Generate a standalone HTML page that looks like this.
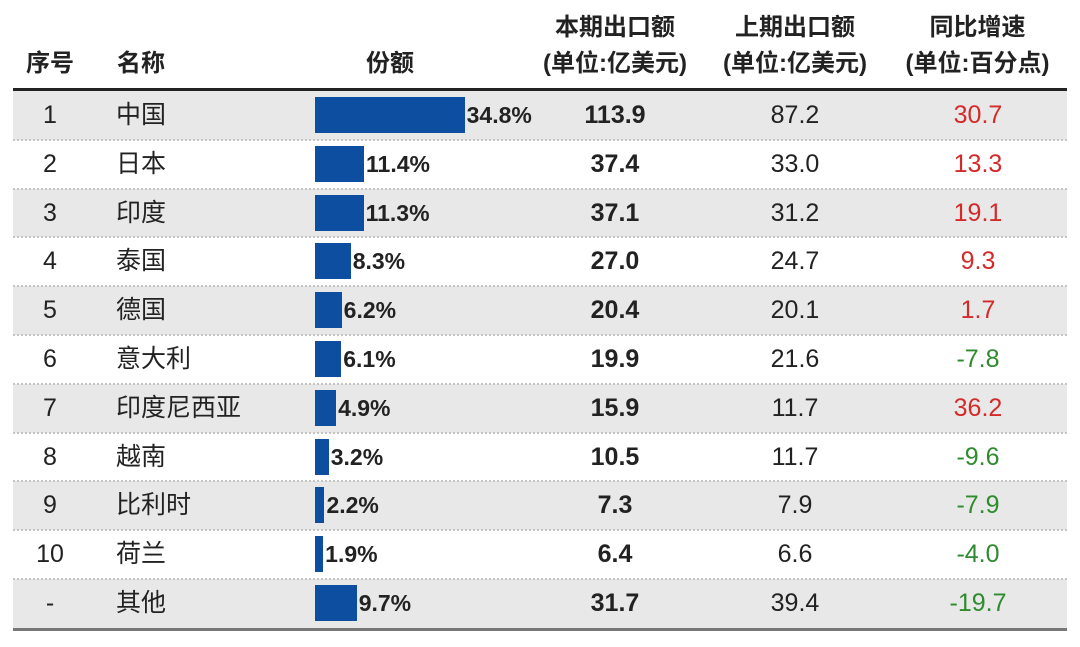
<!DOCTYPE html><html><head><meta charset="utf-8"><style>
body{margin:0;width:1080px;height:647px;background:#fff;position:relative;overflow:hidden;font-family:"Liberation Sans","Noto Sans CJK SC",sans-serif;color:#222}
.h{position:absolute;font-weight:bold;font-size:24px;text-align:center;line-height:36px}
.row{position:absolute;left:13px;width:1054px;height:48.8px}
.g{background:#e8e8e8}
.sep{position:absolute;left:13px;width:1054px;border-top:2px dotted #c4c4c4}
.c{position:absolute;font-size:25px;line-height:48px;text-align:center}
.bar{position:absolute;height:36px;top:6px;background:#0d4ea0}
.pl{position:absolute;font-size:23px;font-weight:bold;line-height:48px}
</style></head><body>
<div class="h" style="left:10px;width:80px;top:46px">序号</div>
<div class="h" style="left:110px;width:62px;top:46px">名称</div>
<div class="h" style="left:340px;width:100px;top:46px">份额</div>
<div class="h" style="left:525px;width:180px;top:10px">本期出口额<br>(单位:亿美元)</div>
<div class="h" style="left:705px;width:180px;top:10px">上期出口额<br>(单位:亿美元)</div>
<div class="h" style="left:885px;width:185px;top:10px">同比增速<br>(单位:百分点)</div>
<div style="position:absolute;left:13px;width:1054px;top:88px;height:3px;background:#222"></div>
<div id="rows"></div>
<div style="position:absolute;left:13px;width:1054px;top:628px;height:3px;background:#777"></div>
<script>
var d=[["1","中国",34.8,"113.9","87.2","30.7"],["2","日本",11.4,"37.4","33.0","13.3"],["3","印度",11.3,"37.1","31.2","19.1"],["4","泰国",8.3,"27.0","24.7","9.3"],["5","德国",6.2,"20.4","20.1","1.7"],["6","意大利",6.1,"19.9","21.6","-7.8"],["7","印度尼西亚",4.9,"15.9","11.7","36.2"],["8","越南",3.2,"10.5","11.7","-9.6"],["9","比利时",2.2,"7.3","7.9","-7.9"],["10","荷兰",1.9,"6.4","6.6","-4.0"],["-","其他",9.7,"31.7","39.4","-19.7"]];
var h="";
d.forEach(function(r,i){var t=91+i*48.8;
h+='<div class="row'+(i%2==0?' g':'')+'" style="top:'+t+'px"></div>';
if(i>0)h+='<div class="sep" style="top:'+(t-1)+'px"></div>';
var w=r[2]*4.3;
h+='<div class="c" style="left:10px;width:80px;top:'+t+'px">'+r[0]+'</div>';
h+='<div class="c" style="left:116px;text-align:left;top:'+t+'px">'+r[1]+'</div>';
h+='<div style="position:absolute;top:'+t+'px;left:0;height:48px;width:1px"><div class="bar" style="left:315px;width:'+w+'px"></div><div class="pl" style="left:'+(317+w)+'px;top:0">'+r[2].toFixed(1)+'%</div></div>';
h+='<div class="c" style="left:525px;width:180px;font-weight:bold;top:'+t+'px">'+r[3]+'</div>';
h+='<div class="c" style="left:705px;width:180px;top:'+t+'px">'+r[4]+'</div>';
h+='<div class="c" style="left:888px;width:180px;color:'+(r[5][0]=="-"?"#2e8b2e":"#d42a2a")+';top:'+t+'px">'+r[5]+'</div>';
});
document.getElementById("rows").innerHTML=h;
</script>
</body></html>
